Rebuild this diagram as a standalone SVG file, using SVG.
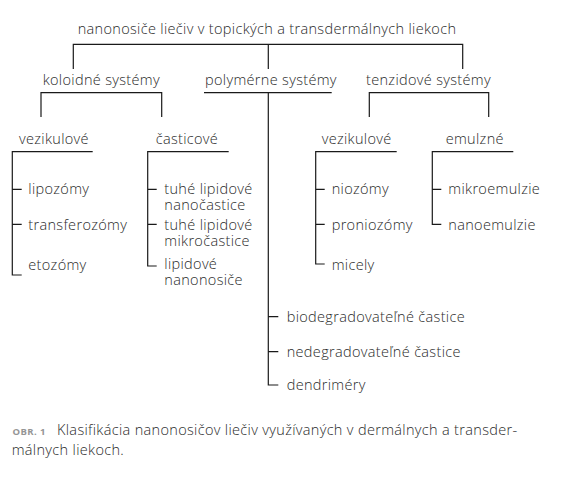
<svg xmlns="http://www.w3.org/2000/svg" width="574" height="498" viewBox="0 0 574 498">
<style>
text{font-family:"Open Sans",Roboto,"Liberation Sans",sans-serif;font-size:14.5px;fill:#2a2a2a;font-weight:300;letter-spacing:0.33px}
.cap{font-size:9.5px;fill:#959595;font-weight:700;letter-spacing:0.4px}
#connectors path{fill:none;stroke:#1a1a1a;stroke-width:1.2}
</style>
<rect width="574" height="498" fill="#fff"/>
<g id="connectors">
<path d="M73.3,69 V44.3 H462.7 V69 M268.3,44.3 V69"/>
<path d="M41,117 V92.7 H161.7 V117"/>
<path d="M204,92.7 H331.7 M268.3,92.7 V385 H278.3 M268.3,316.7 H278.3 M268.3,351.7 H278.3"/>
<path d="M369.3,117 V92.7 H488.7 V117"/>
<path d="M92.7,151.7 H12.3 V275 H21.7 M12.3,189.3 H21.7 M12.3,224.3 H21.7"/>
<path d="M228.7,151.7 H147.7 V266 H156.7 M147.7,189.3 H156.7 M147.7,224.3 H156.7"/>
<path d="M396.7,151.7 H315.7 V264 H324.7 M315.7,189.3 H324.7 M315.7,224.3 H324.7"/>
<path d="M513.3,151.7 H432.3 V224.3 H441.3 M432.3,189.3 H441.3"/>
</g>
<g id="root"><text x="77.7" y="34">nanonosiče liečiv v topických a transdermálnych liekoch</text></g>
<g id="koloidne"><text x="42.7" y="85">koloidné systémy</text></g>
<g id="polymerne"><text x="205" y="85">polymérne systémy</text></g>
<g id="tenzidove"><text x="366" y="85">tenzidové systémy</text></g>
<g id="vezikulove1"><text x="19" y="143.5">vezikulové</text></g>
<g id="casticove"><text x="155.7" y="143.5">časticové</text></g>
<g id="vezikulove2"><text x="321.7" y="143.5">vezikulové</text></g>
<g id="emulzne"><text x="445.7" y="143.5">emulzné</text></g>
<g id="lipozomy"><text x="28.3" y="194">lipozómy</text></g>
<g id="transferozomy"><text x="28.3" y="230">transferozómy</text></g>
<g id="etozomy"><text x="28.3" y="270">etozómy</text></g>
<g id="tlnc"><text x="164.3" y="194">tuhé lipidové<tspan x="164.3" dy="16">nanočastice</tspan></text></g>
<g id="tlmc"><text x="164.3" y="230">tuhé lipidové<tspan x="164.3" dy="16">mikročastice</tspan></text></g>
<g id="lnn"><text x="164.3" y="268.5">lipidové<tspan x="164.3" dy="16.5">nanonosiče</tspan></text></g>
<g id="niozomy"><text x="331.7" y="194">niozómy</text></g>
<g id="proniozomy"><text x="331.7" y="230">proniozómy</text></g>
<g id="micely"><text x="331.7" y="270">micely</text></g>
<g id="mikroemulzie"><text x="448.3" y="194">mikroemulzie</text></g>
<g id="nanoemulzie"><text x="448.3" y="230">nanoemulzie</text></g>
<g id="biodeg"><text x="286.7" y="321.7">biodegradovateľné častice</text></g>
<g id="nedeg"><text x="286.7" y="356.7">nedegradovateľné častice</text></g>
<g id="dendrimery"><text x="286.7" y="390">dendriméry</text></g>
<g id="caption">
<text class="cap" x="12.5" y="434.5">OBR. 1</text>
<text x="57" y="434.5">Klasifikácia nanonosičov liečiv využívaných v dermálnych a transder-</text>
<text x="11.7" y="455">málnych liekoch.</text>
</g>
</svg>
